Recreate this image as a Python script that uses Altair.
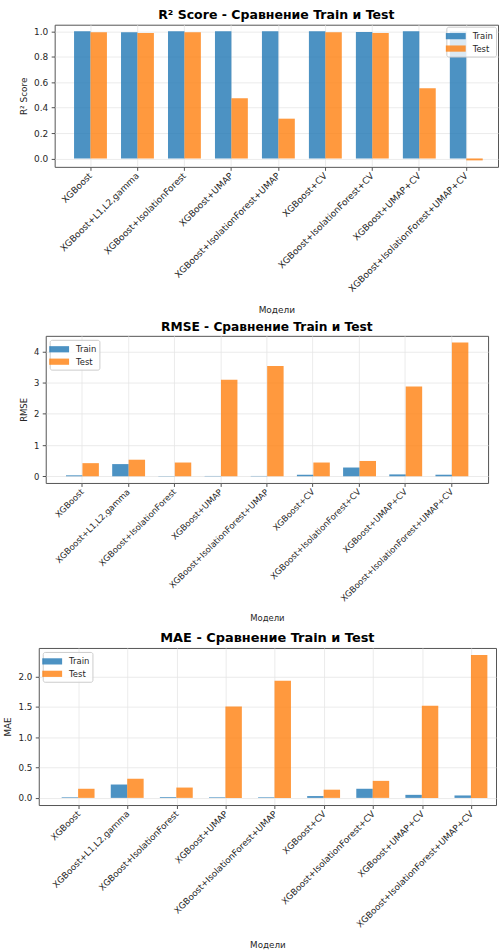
import altair as alt
import pandas as pd

# Models compared in every panel, in plotting order
models = [
    "XGBoost",
    "XGBoost+L1,L2,gamma",
    "XGBoost+IsolationForest",
    "XGBoost+UMAP",
    "XGBoost+IsolationForest+UMAP",
    "XGBoost+CV",
    "XGBoost+IsolationForest+CV",
    "XGBoost+UMAP+CV",
    "XGBoost+IsolationForest+UMAP+CV",
]
splits = ["Train", "Test"]

# Metric values per model
r2_train = [1.000, 0.992, 1.000, 1.000, 1.000, 1.000, 0.995, 1.000, 0.999]
r2_test = [0.992, 0.987, 0.992, 0.474, 0.313, 0.992, 0.987, 0.552, -0.015]
rmse_train = [0.03, 0.39, 0.01, 0.01, 0.01, 0.05, 0.28, 0.06, 0.05]
rmse_test = [0.42, 0.53, 0.44, 3.09, 3.53, 0.44, 0.49, 2.87, 4.28]
mae_train = [0.01, 0.22, 0.01, 0.01, 0.01, 0.03, 0.15, 0.05, 0.04]
mae_test = [0.15, 0.315, 0.17, 1.505, 1.93, 0.135, 0.28, 1.515, 2.35]

# Tick values for the y axes
r2_ticks = [0.0, 0.2, 0.4, 0.6, 0.8, 1.0]
rmse_ticks = [0, 1, 2, 3, 4]
mae_ticks = [0.0, 0.5, 1.0, 1.5, 2.0]

FONT = "DejaVu Sans"
INK = "#262626"
FRAME = "#555555"
GRID = "#e6e6e6"
TAB_BLUE = "#1f77b4"
TAB_ORANGE = "#ff7f0e"
# wide, flat legend swatch (20 x 6 px at symbolSize 156)
SWATCH = "M-1.6,-0.5L1.6,-0.5L1.6,0.5L-1.6,0.5Z"


def metric_panel(title, ylabel, train, test, ticks, fmt, ydomain, width, height,
                 pad_outer, band_align, legend_orient, legend_offset, font_size,
                 title_size, xtitle_pad):
    df = pd.DataFrame({
        "model": models * 2,
        "split": [splits[0]] * len(models) + [splits[1]] * len(models),
        "value": list(train) + list(test),
    })
    return alt.Chart(df).mark_bar(opacity=0.8).encode(
        x=alt.X(
            "model:N", sort=models, title="Модели",
            scale=alt.Scale(paddingInner=0.3, paddingOuter=pad_outer, align=band_align),
            axis=alt.Axis(labelAngle=-45, labelAlign="right", labelBaseline="middle",
                          labelLimit=400, labelOverlap=False, labelFontSize=font_size,
                          titleFontSize=font_size, titlePadding=xtitle_pad,
                          bandPosition=0.5, grid=True),
        ),
        xOffset=alt.XOffset("split:N", sort=splits,
                            scale=alt.Scale(paddingInner=0, paddingOuter=0)),
        y=alt.Y("value:Q", title=ylabel,
                scale=alt.Scale(domain=ydomain, nice=False),
                axis=alt.Axis(values=ticks, format=fmt, grid=True,
                              labelFontSize=font_size, titleFontSize=font_size)),
        y2=alt.datum(0),
        color=alt.Color("split:N", sort=splits,
                        scale=alt.Scale(domain=splits, range=[TAB_BLUE, TAB_ORANGE]),
                        legend=alt.Legend(title=None, orient=legend_orient,
                                          offset=legend_offset)),
    ).properties(
        width=width, height=height,
        title=alt.TitleParams(title, fontSize=title_size),
        view=alt.ViewBackground(stroke=FRAME, strokeWidth=1),
    )


def gap(w):
    # empty column that shifts a row to the right
    return alt.Chart(pd.DataFrame({"g": [0]})).mark_point(opacity=0, size=1).properties(
        width=w, height=30, view=alt.ViewBackground(stroke="transparent"))


r2_panel = metric_panel("R² Score - Сравнение Train и Test", "R² Score",
                        r2_train, r2_test, r2_ticks, ".1f", [-0.066, 1.052],
                        446, 143, 0.369, 0.559, "top-right", 2, 9, 12.6, 12.5)
rmse_panel = metric_panel("RMSE - Сравнение Train и Test", "RMSE",
                          rmse_train, rmse_test, rmse_ticks, "d", [-0.214, 4.494],
                          445, 148, 0.439, 0.5, "top-left", 4, 8.5, 12.3, 11.3)
mae_panel = metric_panel("MAE - Сравнение Train и Test", "MAE",
                         mae_train, mae_test, mae_ticks, ".1f", [-0.1175, 2.4675],
                         460, 158, 0.306, 0.762, "top-left", 4, 8.8, 13.0, 12)

row1 = alt.hconcat(gap(17.5), r2_panel, spacing=0).resolve_scale(color="independent")
row2 = alt.hconcat(gap(17), rmse_panel, spacing=0).resolve_scale(color="independent")
row3 = alt.hconcat(gap(1), mae_panel, spacing=0).resolve_scale(color="independent")

chart = alt.vconcat(
    alt.vconcat(row1, row2, spacing=4).resolve_scale(color="independent"),
    row3,
    spacing=8,
).resolve_scale(
    color="independent",
).properties(
    padding={"left": 0, "top": 5, "right": 0, "bottom": 0},
).configure_axis(
    labelFont=FONT, titleFont=FONT, labelColor=INK, titleColor=INK,
    titleFontWeight="normal",
    tickColor=INK, tickSize=3.5, tickWidth=0.8, domain=False,
    gridColor=GRID, gridWidth=0.8, labelPadding=3.5, titlePadding=5,
).configure_title(
    font=FONT, fontWeight="bold", color="black", anchor="middle", frame="group", offset=3,
).configure_legend(
    labelFont=FONT, labelFontSize=8.5, labelColor=INK,
    symbolType=SWATCH, symbolSize=156, symbolStrokeWidth=0, symbolOpacity=0.8,
    fillColor="rgba(255,255,255,0.8)", strokeColor="#cccccc", cornerRadius=2,
    padding=3, rowPadding=1.5, labelOffset=10.5,
).configure_view(stroke=FRAME)

chart.save("out.html", embed_options={"renderer": "svg", "actions": False})
